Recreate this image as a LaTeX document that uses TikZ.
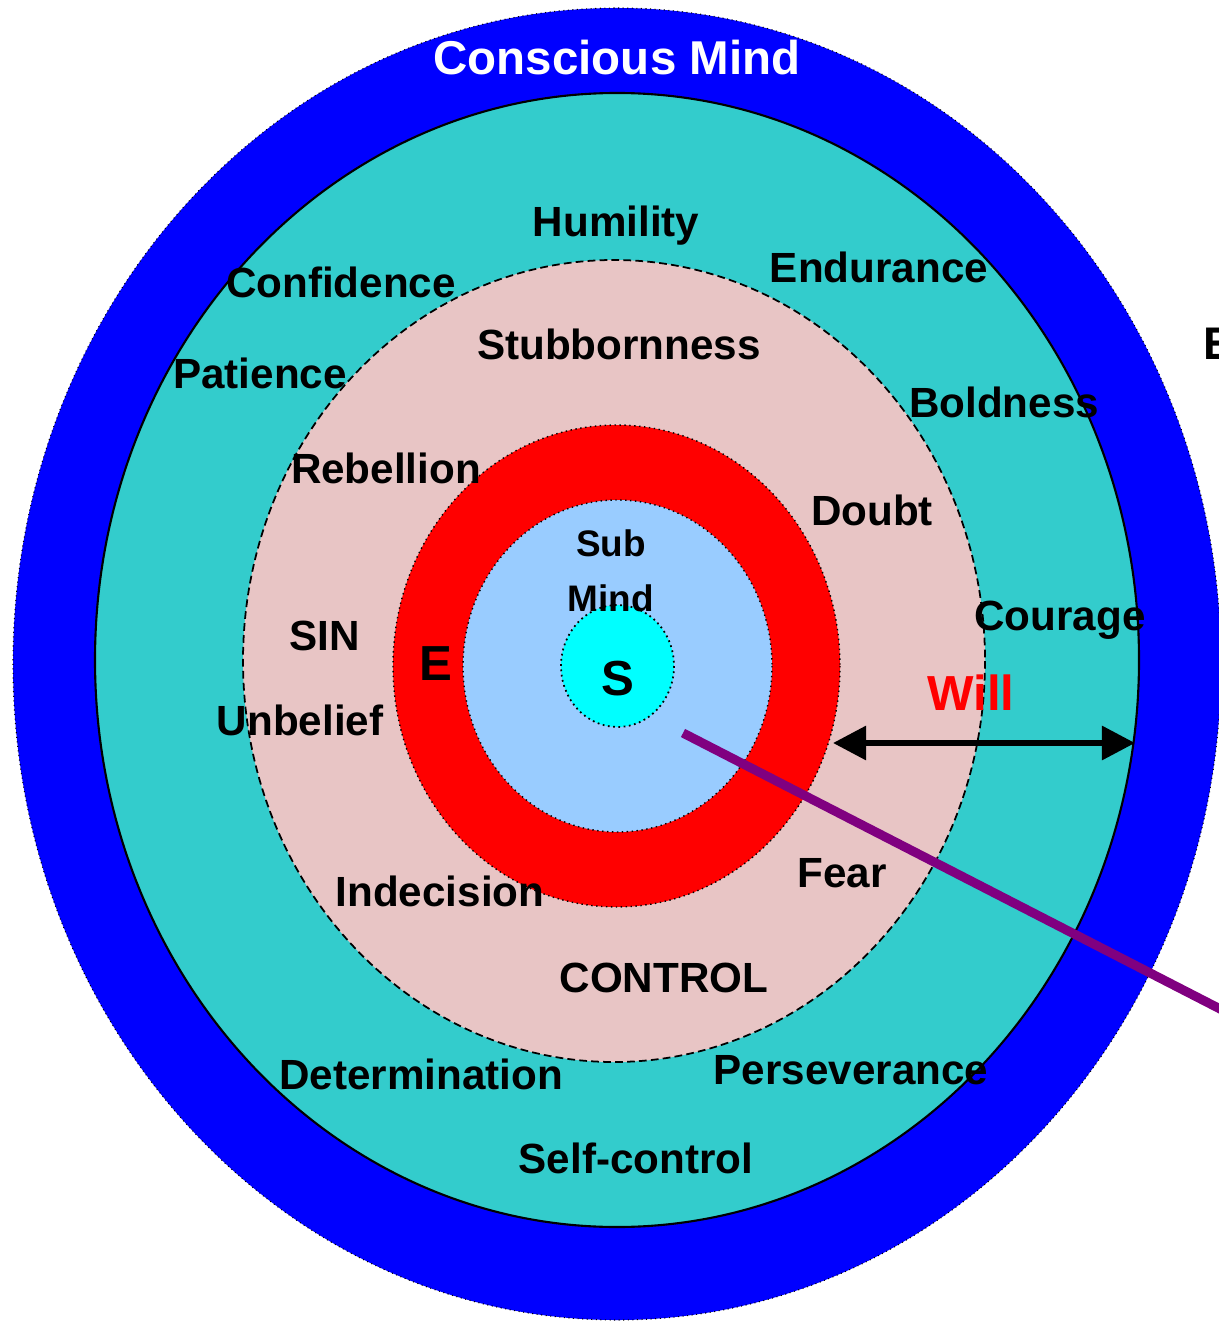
\documentclass[tikz,border=0pt]{standalone}
\usepackage{fontspec}
\setmainfont{Liberation Sans}
\usetikzlibrary{arrows.meta,positioning}
\definecolor{mindblue}{RGB}{0,0,255}
\definecolor{mindteal}{RGB}{51,204,204}
\definecolor{mindpink}{RGB}{232,197,197}
\definecolor{mindred}{RGB}{255,0,0}
\definecolor{sublight}{RGB}{153,204,255}
\definecolor{spiritcyan}{RGB}{0,255,255}
\definecolor{willpurple}{RGB}{128,0,128}
\tikzset{>={Triangle[length=9.4pt,width=9.4pt]},
         word/.style={font=\fontsize{12}{14}\selectfont\bfseries, inner sep=0pt, anchor=base},
         bigword/.style={word, font=\fontsize{14}{16}\selectfont\bfseries},
         smallword/.style={word, font=\fontsize{10.5}{12}\selectfont\bfseries}}

\begin{document}
\begin{tikzpicture}[x=0.01cm, y=-0.01cm]
  \useasboundingbox (0,0) rectangle (1218,1322);
  % rings, outside in
  \draw[fill=mindblue, densely dotted, line width=0.3pt] (617,664) ellipse [x radius=604, y radius=656];
  \draw[fill=mindteal, line width=0.6pt] (617,660) ellipse [x radius=522, y radius=567];
  \draw[fill=mindpink, dash pattern=on 2.2pt off 1.2pt, line width=0.5pt] (614,661) ellipse [x radius=371, y radius=401];
  \draw[fill=mindred, densely dotted, line width=0.4pt] (616.5,666) ellipse [x radius=223.5, y radius=241];
  \draw[fill=sublight, densely dotted, line width=0.4pt] (617.5,666) ellipse [x radius=154.5, y radius=166];
  \draw[fill=spiritcyan, densely dotted, line width=0.5pt] (617.5,666) ellipse [x radius=56.5, y radius=61];

  % words
  \node[bigword, text=white, font=\fontsize{13.5}{16}\selectfont\bfseries] (conscious) at (617,75) {Conscious Mind};
  \node[word] (humility) at (616,237) {Humility};
  \node[word] (confidence) at (341,298) {Confidence};
  \node[word] (endurance) at (879,283) {Endurance};
  \node[word] (stubborn) at (619,360) {Stubbornness};
  \node[word] (patience) at (260,389) {Patience};
  \node[word] (boldness) at (1004,418) {Boldness};
  \node[word] (rebellion) at (386,484) {Rebellion};
  \node[word] (doubt) at (872,525) {Doubt};
  \node[smallword] (sub) at (611,557) {Sub};
  \node[smallword] (submind) at (611,611) {Mind};
  \node[word] (courage) at (1060,630) {Courage};
  \node[word] (sin) at (325,650) {SIN};
  \node[bigword] (emo) at (436,680) {E};
  \node[bigword] (spirit) at (618,695) {S};
  \node[bigword, text=mindred] (will) at (971,710) {Will};
  \node[word] (unbelief) at (300,735) {Unbelief};
  \node[word] (fear) at (842,887) {Fear};
  \node[word] (indecision) at (440,906) {Indecision};
  \node[word] (control) at (664,992) {CONTROL};
  \node[word] (determination) at (421,1089) {Determination};
  \node[word] (perseverance) at (851,1084) {Perseverance};
  \node[word] (selfcontrol) at (636,1173) {Self-control};
  \node[word, font=\fontsize{13}{15}\selectfont\bfseries, anchor=base west] (edge) at (1203,360) {E};

  % will arrow and pointer
  \coordinate (willL) at (833,743);
  \coordinate (willR) at (1135,743);
  \draw[<->, line width=1.7pt] (willL) -- (willR);
  \coordinate (ptrA) at (683,733);
  \coordinate (ptrB) at (1300,1050);
  \draw[willpurple, line width=2.6pt] (ptrA) -- (ptrB);
\end{tikzpicture}
\end{document}
